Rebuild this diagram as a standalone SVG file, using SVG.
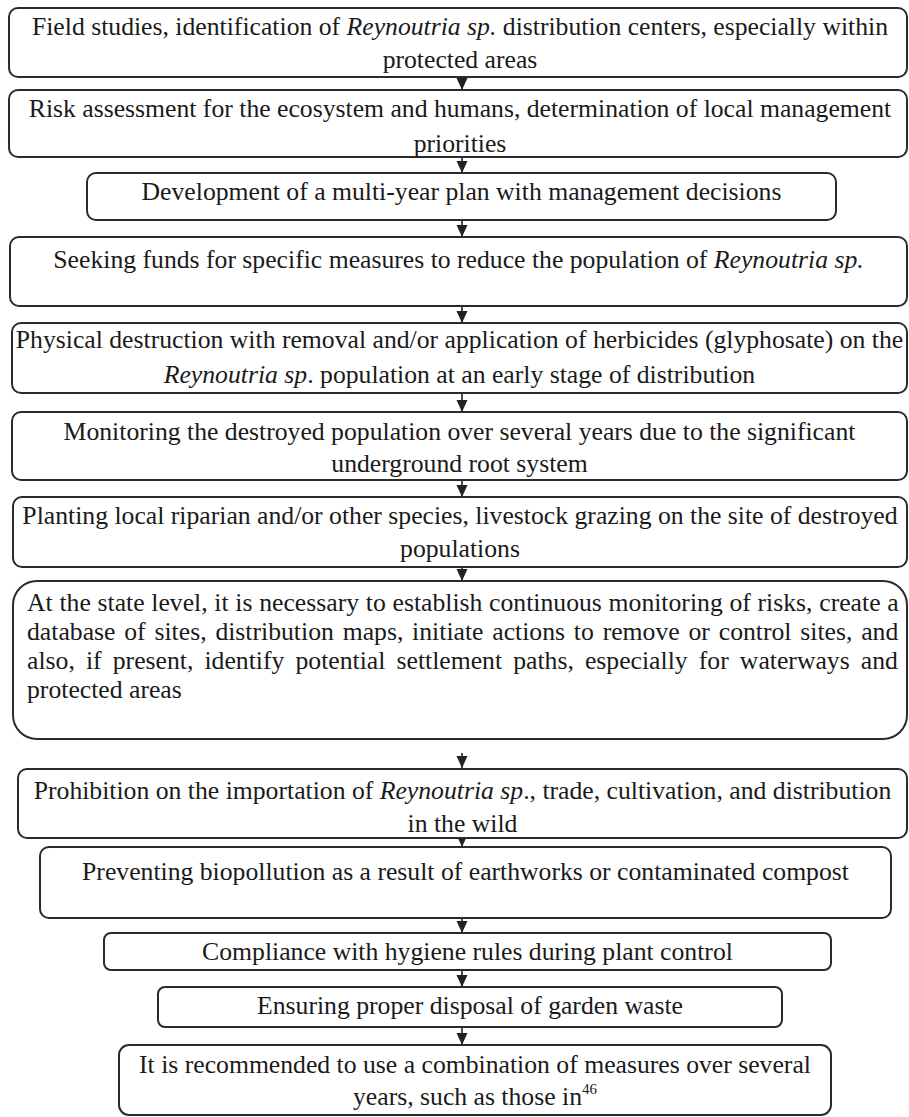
<svg xmlns="http://www.w3.org/2000/svg" width="909" height="1117" viewBox="0 0 909 1117">
<defs>
<marker id="ah" markerUnits="userSpaceOnUse" markerWidth="13" markerHeight="12" refX="12" refY="6" orient="auto" viewBox="0 0 13 12">
<path d="M0,0.5 L12,6 L0,11.5 Z" fill="#222"/>
</marker>
<style>
.box{fill:#fff;stroke:#2b2b2b;stroke-width:2}
.t{font-family:"Liberation Serif","Times New Roman",serif;font-size:25.7px;fill:#1a1a1a;text-anchor:middle}
.j{text-anchor:start}
.i{font-style:italic}
.c{stroke:#222;stroke-width:1.6;fill:none}
</style>
</defs>
<rect width="909" height="1117" fill="#fff"/>
<g id="connectors">
<line class="c" x1="462" y1="77" x2="462" y2="90" marker-end="url(#ah)"/>
<line class="c" x1="462" y1="157" x2="462" y2="173" marker-end="url(#ah)"/>
<line class="c" x1="462" y1="220" x2="462" y2="237" marker-end="url(#ah)"/>
<line class="c" x1="462" y1="306" x2="462" y2="323" marker-end="url(#ah)"/>
<line class="c" x1="462" y1="393" x2="462" y2="412" marker-end="url(#ah)"/>
<line class="c" x1="462" y1="480" x2="462" y2="497" marker-end="url(#ah)"/>
<line class="c" x1="462" y1="567" x2="462" y2="581" marker-end="url(#ah)"/>
<line class="c" x1="462" y1="753" x2="462" y2="768" marker-end="url(#ah)"/>
<line class="c" x1="462" y1="836" x2="462" y2="847" marker-end="url(#ah)"/>
<line class="c" x1="462" y1="918" x2="462" y2="933" marker-end="url(#ah)"/>
<line class="c" x1="462" y1="970" x2="462" y2="987" marker-end="url(#ah)"/>
<line class="c" x1="462" y1="1027" x2="462" y2="1045" marker-end="url(#ah)"/>
</g>
<g id="n1">
<rect class="box" x="9" y="8" width="898" height="69" rx="9"/>
<text class="t" x="460" y="35">Field studies, identification of <tspan class="i">Reynoutria sp.</tspan> distribution centers, especially within</text>
<text class="t" x="460" y="68">protected areas</text>
</g>
<g id="n2">
<rect class="box" x="9" y="90" width="898" height="67" rx="9"/>
<text class="t" x="460" y="117">Risk assessment for the ecosystem and humans, determination of local management</text>
<text class="t" x="460" y="152">priorities</text>
</g>
<g id="n3">
<rect class="box" x="87" y="173" width="749" height="47" rx="9"/>
<text class="t" x="461.5" y="200">Development of a multi-year plan with management decisions</text>
</g>
<g id="n4">
<rect class="box" x="10" y="237" width="897" height="69" rx="9"/>
<text class="t" x="458.5" y="268">Seeking funds for specific measures to reduce the population of <tspan class="i">Reynoutria sp.</tspan></text>
</g>
<g id="n5">
<rect class="box" x="12" y="323" width="895" height="70" rx="9"/>
<text class="t" x="459.5" y="348">Physical destruction with removal and/or application of herbicides (glyphosate) on the</text>
<text class="t" x="459.5" y="383"><tspan class="i">Reynoutria sp</tspan>. population at an early stage of distribution</text>
</g>
<g id="n6">
<rect class="box" x="12" y="412" width="895" height="68" rx="9"/>
<text class="t" x="459.5" y="440">Monitoring the destroyed population over several years due to the significant</text>
<text class="t" x="459.5" y="472">underground root system</text>
</g>
<g id="n7">
<rect class="box" x="13" y="497" width="894" height="70" rx="9"/>
<text class="t" x="460" y="524">Planting local riparian and/or other species, livestock grazing on the site of destroyed</text>
<text class="t" x="460" y="557">populations</text>
</g>
<g id="n8">
<rect class="box" x="13" y="581" width="894" height="158" rx="24"/>
<text class="t j" x="27" y="611" word-spacing="0.3">At the state level, it is necessary to establish continuous monitoring of risks, create a</text>
<text class="t j" x="27" y="640" word-spacing="2.4">database of sites, distribution maps, initiate actions to remove or control sites, and</text>
<text class="t j" x="27" y="669" word-spacing="4.7">also, if present, identify potential settlement paths, especially for waterways and</text>
<text class="t j" x="27" y="698">protected areas</text>
</g>
<g id="n9">
<rect class="box" x="18" y="769" width="889" height="69" rx="9"/>
<text class="t" x="462.5" y="799">Prohibition on the importation of <tspan class="i">Reynoutria sp</tspan>., trade, cultivation, and distribution</text>
<text class="t" x="462.5" y="832">in the wild</text>
</g>
<g id="n10">
<rect class="box" x="40" y="847" width="851" height="71" rx="9"/>
<text class="t" x="465.5" y="880">Preventing biopollution as a result of earthworks or contaminated compost</text>
</g>
<g id="n11">
<rect class="box" x="104" y="933" width="727" height="37" rx="7"/>
<text class="t" x="467.5" y="960">Compliance with hygiene rules during plant control</text>
</g>
<g id="n12">
<rect class="box" x="158" y="987" width="624" height="40" rx="7"/>
<text class="t" x="470" y="1014">Ensuring proper disposal of garden waste</text>
</g>
<g id="n13">
<rect class="box" x="119" y="1045" width="712" height="70" rx="10"/>
<text class="t" x="475" y="1073">It is recommended to use a combination of measures over several</text>
<text class="t" x="475" y="1105">years, such as those in<tspan font-size="15" dy="-11">46</tspan></text>
</g>
</svg>
